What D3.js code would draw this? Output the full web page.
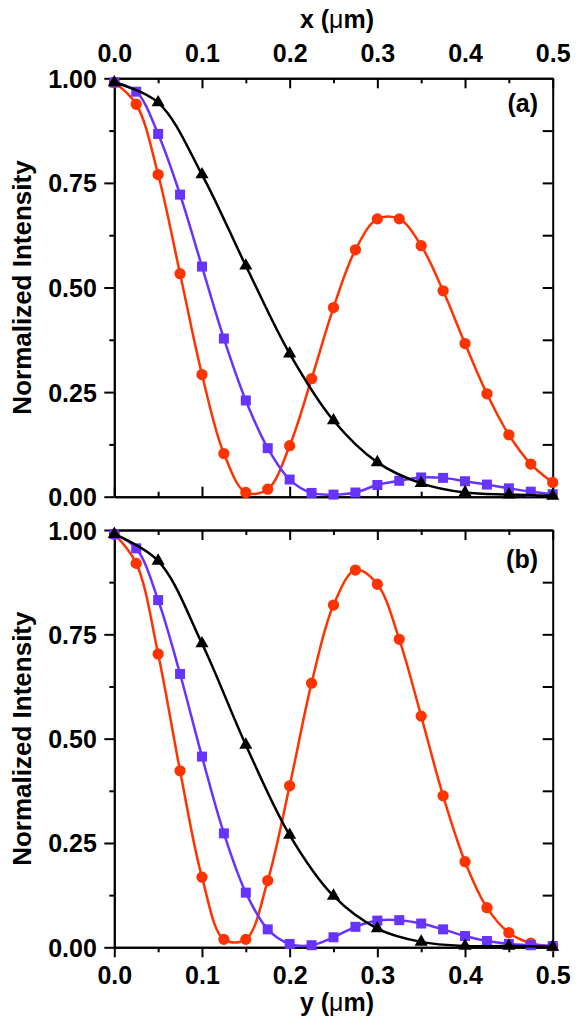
<!DOCTYPE html>
<html><head><meta charset="utf-8">
<script src="https://cdn.jsdelivr.net/npm/d3@7"></script>
<style>body{margin:0;background:#fff}svg{display:block}</style>
</head><body><svg id="c" width="581" height="1030"></svg>
<script>
// ---- data ----
const xFine = [0, 0.025, 0.05, 0.075, 0.1, 0.125, 0.15, 0.175, 0.2, 0.225, 0.25, 0.275, 0.3, 0.325, 0.35, 0.375, 0.4, 0.425, 0.45, 0.475, 0.5];
const xCoarse = [0, 0.05, 0.1, 0.15, 0.2, 0.25, 0.3, 0.35, 0.4, 0.45, 0.5];

const redA   = [0.99, 0.938, 0.770, 0.533, 0.292, 0.103, 0.010, 0.018, 0.122, 0.282, 0.452, 0.590, 0.664, 0.664, 0.600, 0.492, 0.366, 0.246, 0.148, 0.078, 0.034];
const blueA  = [0.99, 0.968, 0.867, 0.722, 0.550, 0.378, 0.230, 0.116, 0.041, 0.009, 0.005, 0.010, 0.028, 0.038, 0.046, 0.045, 0.037, 0.029, 0.020, 0.012, 0.006];
const blackA = [0.99, 0.942, 0.770, 0.552, 0.342, 0.182, 0.082, 0.032, 0.010, 0.005, 0.002];

const redB   = [0.99, 0.920, 0.703, 0.423, 0.168, 0.019, 0.019, 0.160, 0.387, 0.633, 0.820, 0.904, 0.870, 0.738, 0.554, 0.363, 0.205, 0.095, 0.035, 0.010, 0.003];
const blueB  = [0.99, 0.956, 0.832, 0.655, 0.457, 0.273, 0.131, 0.043, 0.008, 0.005, 0.024, 0.049, 0.064, 0.065, 0.057, 0.043, 0.027, 0.015, 0.008, 0.005, 0.003];
const blackB = [0.99, 0.926, 0.728, 0.485, 0.269, 0.123, 0.045, 0.013, 0.003, 0.003, 0.001];

const yMajor = [0, 0.25, 0.5, 0.75, 1.0];
const yMinor = [0.125, 0.375, 0.625, 0.875];
const yRight = [0.125, 0.25, 0.375, 0.5, 0.625, 0.75, 0.875];
const xMajor = [0, 0.1, 0.2, 0.3, 0.4, 0.5];
const xMinor = [0.05, 0.15, 0.25, 0.35, 0.45];
const panelLabels = ["(a)", "(b)"];
const yTitle = "Normalized Intensity";

// ---- style ----
const FONT = "'Liberation Sans', Arial, Helvetica, sans-serif";
const RED = "#ff3300", BLUE = "#6633ff", BLACK = "#000";

const svg = d3.select("#c");
const X0 = 114.3, X1 = 552.7;
const x = d3.scaleLinear().domain([0, 0.5]).range([X0, X1]);

const panels = [
  {top: 78.3, bottom: 496.7, red: redA, blue: blueA, black: blackA, label: panelLabels[0], labelY: 112, topLabels: true},
  {top: 530, bottom: 947.3, red: redB, blue: blueB, black: blackB, label: panelLabels[1], labelY: 568, topLabels: false}
];

function styleAxis(g) {
  g.selectAll("path.domain").attr("stroke", "#000").attr("stroke-width", 2);
  g.selectAll(".tick line").attr("stroke", "#000").attr("stroke-width", 2);
  g.selectAll("text").attr("font-family", FONT).attr("font-size", 25).attr("font-weight", "bold").attr("fill", "#000");
}

panels.forEach((p, i) => {
  const y = d3.scaleLinear().domain([0, 1]).range([p.bottom, p.top]);
  const g = svg.append("g");

  // left axis
  g.append("g").attr("transform", `translate(${X0},0)`)
    .call(d3.axisLeft(y).tickValues(yMajor).tickSize(10).tickSizeOuter(0).tickPadding(7.5).tickFormat(d3.format(".2f")))
    .call(styleAxis)
    .selectAll("text").attr("dy", "0.36em");
  g.append("g").attr("transform", `translate(${X0},0)`)
    .call(d3.axisLeft(y).tickValues(yMinor).tickSize(5).tickSizeOuter(0).tickFormat(""))
    .call(styleAxis);

  // right axis
  g.append("g").attr("transform", `translate(${X1},0)`)
    .call(d3.axisRight(y).tickValues(yRight).tickSize(-10).tickSizeOuter(0).tickFormat(""))
    .call(styleAxis);

  // top axis
  const topAx = d3.axisTop(x).tickValues(xMajor).tickSize(-10).tickSizeOuter(0).tickPadding(16.6);
  if (p.topLabels) topAx.tickFormat(d3.format(".1f")); else topAx.tickFormat("");
  g.append("g").attr("transform", `translate(0,${p.top})`).call(topAx).call(styleAxis);
  g.append("g").attr("transform", `translate(0,${p.top})`)
    .call(d3.axisTop(x).tickValues(xMinor).tickSize(-5).tickSizeOuter(0).tickFormat(""))
    .call(styleAxis);

  // bottom axis
  if (i === 0) {
    g.append("g").attr("transform", `translate(0,${p.bottom})`)
      .call(d3.axisBottom(x).tickValues(xMajor).tickSize(-10).tickSizeOuter(0).tickFormat(""))
      .call(styleAxis);
    g.append("g").attr("transform", `translate(0,${p.bottom})`)
      .call(d3.axisBottom(x).tickValues(xMinor).tickSize(-5).tickSizeOuter(0).tickFormat(""))
      .call(styleAxis);
  } else {
    g.append("g").attr("transform", `translate(0,${p.bottom})`)
      .call(d3.axisBottom(x).tickValues(xMajor).tickSize(10).tickSizeOuter(0).tickPadding(8.5).tickFormat(d3.format(".1f")))
      .call(styleAxis);
    g.append("g").attr("transform", `translate(0,${p.bottom})`)
      .call(d3.axisBottom(x).tickValues(xMinor).tickSize(5).tickSizeOuter(0).tickFormat(""))
      .call(styleAxis);
  }

  // y title
  g.append("text")
    .attr("transform", `translate(31,${(p.top + p.bottom) / 2}) rotate(-90)`)
    .attr("text-anchor", "middle")
    .attr("font-family", FONT).attr("font-size", 26).attr("font-weight", "bold")
    .text(yTitle);

  // panel label
  g.append("text").attr("x", 538).attr("y", p.labelY).attr("text-anchor", "end")
    .attr("font-family", FONT).attr("font-size", 25).attr("font-weight", "bold")
    .text(p.label);

  const line = d3.line().x(d => x(d[0])).y(d => y(d[1])).curve(d3.curveCatmullRom.alpha(0.5));

  const series = [
    {xs: xFine, ys: p.red, color: RED, shape: "circle"},
    {xs: xFine, ys: p.blue, color: BLUE, shape: "square"},
    {xs: xCoarse, ys: p.black, color: BLACK, shape: "triangle"}
  ];
  series.forEach(s => {
    const pts = s.xs.map((xv, k) => [xv, s.ys[k]]);
    g.append("path").datum(pts).attr("d", line)
      .attr("fill", "none").attr("stroke", s.color).attr("stroke-width", 2.5);
    const sym = s.shape === "circle" ? d3.symbol(d3.symbolCircle, 100)
              : s.shape === "square" ? d3.symbol(d3.symbolSquare, 100)
              : d3.symbol(d3.symbolTriangle, 75);
    g.append("g").selectAll("path").data(pts).join("path")
      .attr("d", sym)
      .attr("transform", d => `translate(${x(d[0])},${y(d[1])})`)
      .attr("fill", s.color);
  });
});

// x axis titles
function axisTitle(letter, xPos, yPos) {
  const t = svg.append("text").attr("x", xPos).attr("y", yPos).attr("text-anchor", "middle")
    .attr("font-family", FONT).attr("font-size", 25).attr("font-weight", "bold");
  t.append("tspan").text(letter + " (");
  t.append("tspan").attr("font-weight", "normal").text("\u03bc");
  t.append("tspan").text("m)");
}
axisTitle("x", 337, 28);
axisTitle("y", 337, 1011);
</script>
</body></html>
